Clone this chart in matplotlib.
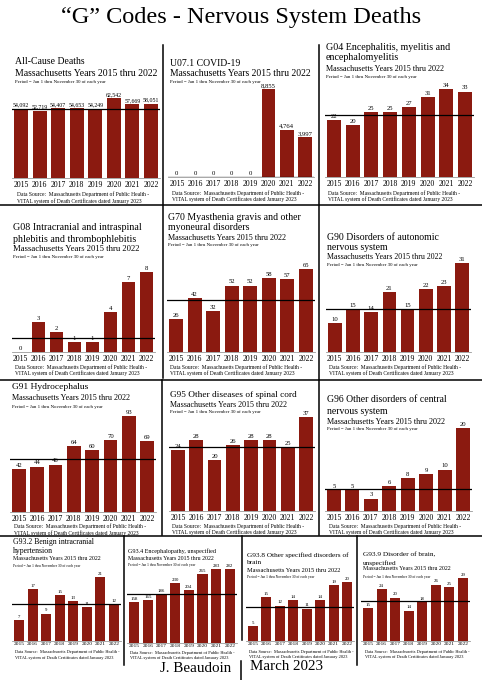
import matplotlib.pyplot as plt
from matplotlib.lines import Line2D

plt.rcParams['font.family'] = ['Liberation Serif', 'DejaVu Serif']

W, H = 482, 680

years = ['2015', '2016', '2017', '2018', '2019', '2020', '2021', '2022']

all_cause = [54092, 52719, 54407, 54653, 54249, 62542, 57669, 58051]
covid = [0, 0, 0, 0, 0, 8855, 4764, 3997]
g04 = [22, 20, 25, 25, 27, 31, 34, 33]
g08 = [0, 3, 2, 1, 1, 4, 7, 8]
g70 = [26, 42, 32, 52, 52, 58, 57, 65]
g90 = [10, 15, 14, 21, 15, 22, 23, 31]
g91 = [42, 44, 46, 64, 60, 70, 93, 69]
g95 = [24, 28, 20, 26, 28, 28, 25, 37]
g96 = [5, 5, 3, 6, 8, 9, 10, 20]
g932 = [7, 17, 9, 15, 13, 11, 21, 12]
g934 = [158, 165, 186, 230, 204, 265, 283, 282]
g938 = [5, 15, 12, 14, 11, 14, 19, 20]
g939 = [15, 24, 20, 14, 18, 26, 25, 29]

main_title = '\u201cG\u201d Codes - Nervous System Deaths'
sub_text = 'Massachusetts Years 2015 thru 2022'
period_text = 'Period = Jan 1 thru November 30 of each year'
source_lines = ['Data Source:  Massachusetts Department of Public Health -',
                'VITAL system of Death Certificates dated January 2023']

bar_color = '#8b1a10'

fig = plt.figure(figsize=(W / 100, H / 100), dpi=100)


def fx(x):
    return x / W


def fy(y):
    return 1 - y / H


def panel(vals, titles, x0, x1, base, top, hx, ty, sy, py, dsy,
          tfs, sfs, small=False):
    # x0/x1 = outer edges of first/last bar, base/top = pixel rows
    s = (x1 - x0) / 7.75
    left = x0 - 0.125 * s
    ax = fig.add_axes([fx(left), fy(base), 8 * s / W, (base - top) / H])
    ax.bar(range(8), vals, width=0.75, color=bar_color)
    ax.set_xlim(-0.5, 7.5)
    ax.set_ylim(0, max(vals))
    ax.axhline(sum(vals[:5]) / 5, color='black', lw=0.9)
    for sp in ['top', 'left', 'right']:
        ax.spines[sp].set_visible(False)
    ax.spines['bottom'].set_color('#999999')
    ax.spines['bottom'].set_linewidth(0.6)
    ax.set_yticks([])
    ax.set_xticks(range(8), years, fontsize=3.9 if small else 5.6)
    ax.tick_params(axis='x', length=0, pad=0.8 if small else 2.0)
    vfs = 3.5 if small else (4.2 if vals is all_cause else 4.8)
    for i, v in enumerate(vals):
        ax.annotate(f'{v:,}', (i, v), xytext=(0, 0.8), textcoords='offset points',
                    ha='center', va='bottom', fontsize=vfs, annotation_clip=False)
    for t, y in zip(titles, ty):
        fig.text(fx(hx), fy(y), t, fontsize=tfs, va='center', ha='left')
    fig.text(fx(hx), fy(sy), sub_text, fontsize=sfs, va='center', ha='left')
    fig.text(fx(hx), fy(py), period_text, fontsize=2.6 if small else 3.5,
             va='center', ha='left')
    for t, y in zip(source_lines, dsy):
        fig.text(fx(hx + 2), fy(y), t, fontsize=3.2 if small else 4.0,
                 va='center', ha='left')


fig.text(0.5, fy(18), main_title, fontsize=17.5, ha='center', va='center')

panel(all_cause, ['All-Cause Deaths'], 14, 158, 178, 98, 15, [62], 73, 82, [194, 201], 7.0, 7.0)
panel(covid, ['U07.1 COVID-19'], 170, 312, 177, 89, 170, [63], 73, 82, [193, 199], 7.0, 6.95)
panel(g04, ['G04 Encephalitis, myelitis and', 'encephalomyelitis'], 327, 472, 177, 89, 326,
      [47, 58], 69, 77, [193, 199], 7.2, 5.9)
panel(g08, ['G08 Intracranial and intraspinal', 'phlebitis and thrombophlebitis'], 14, 153, 352, 272, 13,
      [228, 239], 249, 257, [367, 373], 7.2, 6.2)
panel(g70, ['G70 Myasthenia gravis and other', 'myoneural disorders'], 169, 313, 352, 269, 168,
      [217, 228], 238, 245, [367, 373], 7.1, 5.9)
panel(g90, ['G90 Disorders of autonomic', 'nervous system'], 328, 469, 352, 263, 327,
      [237, 247], 257, 265, [367, 373], 7.0, 5.7)
panel(g91, ['G91 Hydrocephalus'], 12, 154, 512, 416, 12, [387], 398, 407, [526, 533], 6.8, 5.9)
panel(g95, ['G95 Other diseases of spinal cord'], 171, 313, 511, 417, 170, [395], 405, 412,
      [526, 532], 6.7, 5.8)
panel(g96, ['G96 Other disorders of central', 'nervous system'], 327, 470, 511, 428, 327,
      [400, 411], 422, 429, [526, 532], 7.0, 5.9)
panel(g932, ['G93.2 Benign intracranial', 'hypertension'], 14, 119, 641, 577, 13,
      [542, 551], 559, 566, [652, 658], 5.6, 4.35, small=True)
panel(g934, ['G93.4 Encephalopathy, unspecified'], 129, 235, 643, 569, 128,
      [551], 559, 565, [653, 658], 4.4, 4.2, small=True)
panel(g938, ['G93.8 Other specified disorders of', 'brain'], 248, 352, 641, 582, 247,
      [555, 563], 570, 577, [652, 657], 5.2, 4.6, small=True)
panel(g939, ['G93.9 Disorder of brain,', 'unspecified'], 363, 468, 641, 578, 363,
      [555, 563], 569, 577, [652, 657], 5.2, 4.35, small=True)

# collage separators
segs = [((0, 205), (482, 205)), ((163, 45), (163, 378)), ((319, 45), (319, 535)),
        ((0, 380), (482, 380)), ((162, 380), (162, 535)), ((0, 536), (482, 536)),
        ((124, 536), (124, 665)), ((242, 536), (242, 640)), ((357, 536), (357, 665)),
        ((241, 661), (241, 680))]
for (xa, ya), (xb, yb) in segs:
    fig.add_artist(Line2D([fx(xa), fx(xb)], [fy(ya), fy(yb)], color='black', lw=1.1))

fig.text(fx(160), fy(669), 'J. Beaudoin', fontsize=10.8, ha='left', va='center')
fig.text(fx(250), fy(667), 'March 2023', fontsize=10.8, ha='left', va='center')

fig.savefig('out.png', dpi=100, facecolor='white')
